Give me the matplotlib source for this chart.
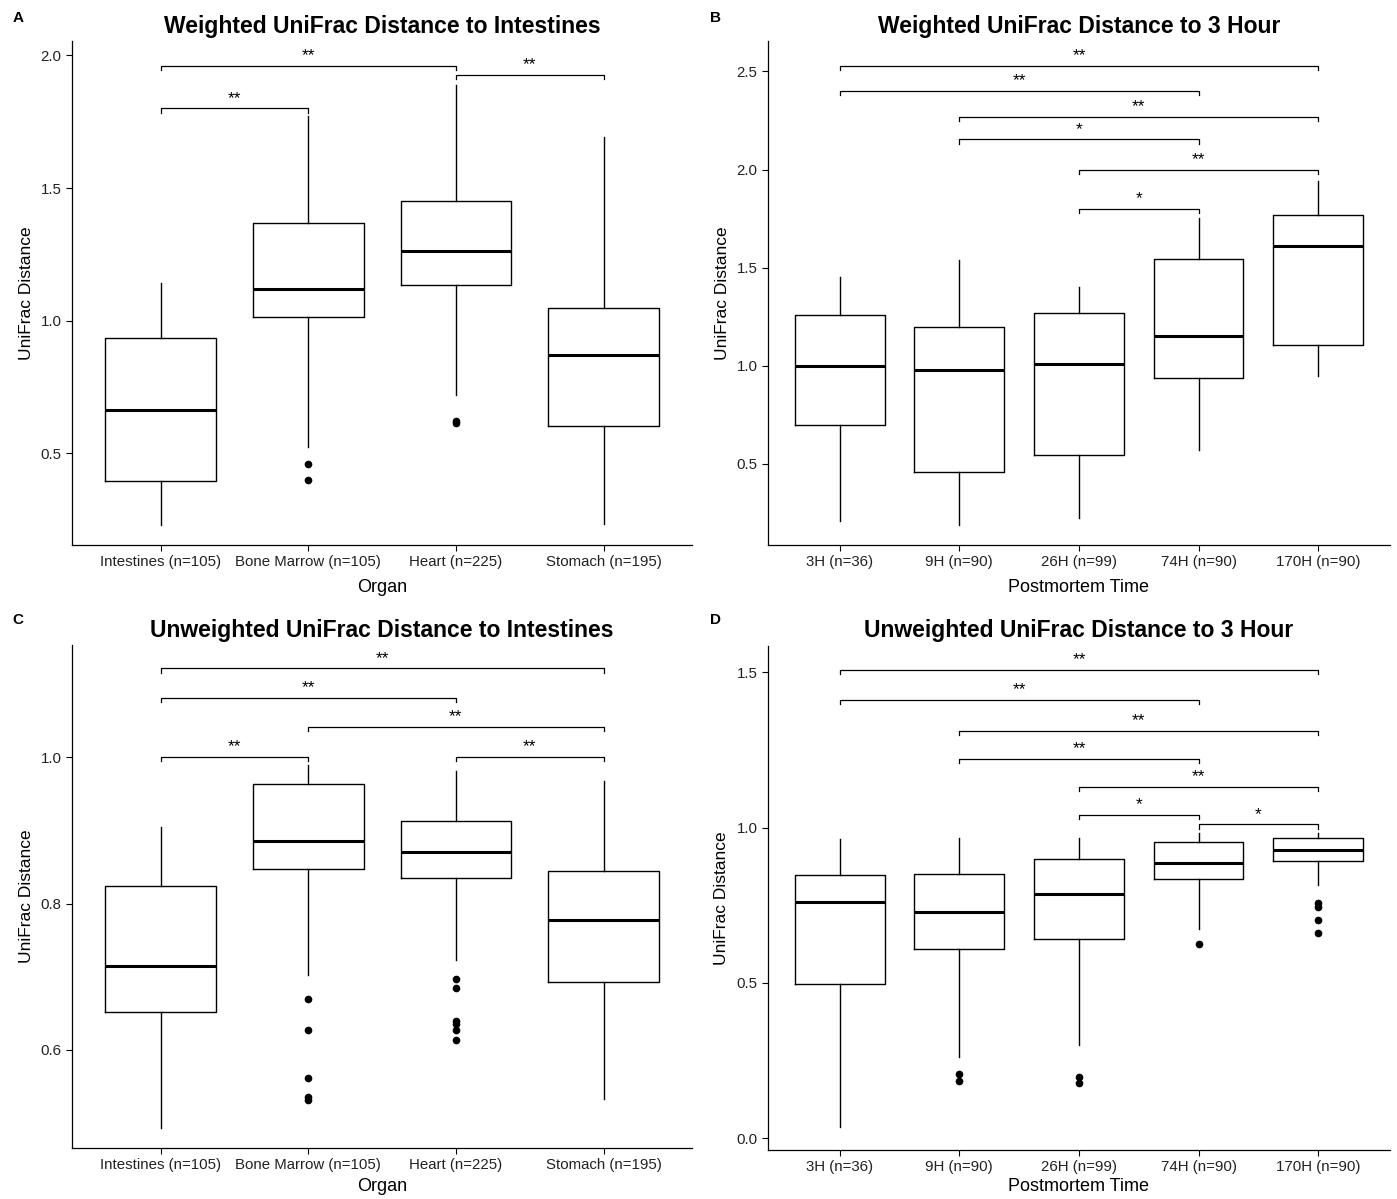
import matplotlib
matplotlib.use("Agg")
import matplotlib.pyplot as plt

plt.rcParams['font.family'] = ['Liberation Sans', 'DejaVu Sans']

organs = ["Intestines (n=105)", "Bone Marrow (n=105)", "Heart (n=225)", "Stomach (n=195)"]
times = ["3H (n=36)", "9H (n=90)", "26H (n=99)", "74H (n=90)", "170H (n=90)"]

# A: weighted UniFrac to intestines
wo_lo = [0.23, 0.525, 0.72, 0.234]
wo_q1 = [0.396, 1.015, 1.136, 0.604]
wo_med = [0.664, 1.12, 1.264, 0.872]
wo_q3 = [0.936, 1.37, 1.453, 1.049]
wo_hi = [1.143, 1.77, 1.89, 1.694]
wo_fliers = [[], [0.46, 0.40], [0.623, 0.615], []]
wo_sig = [(1, 3, 1.962, "**"), (3, 4, 1.925, "**"), (1, 2, 1.80, "**")]

# B: weighted UniFrac to 3 hour
wt_lo = [0.21, 0.19, 0.225, 0.571, 0.949]
wt_q1 = [0.70, 0.46, 0.546, 0.939, 1.107]
wt_med = [1.0, 0.98, 1.01, 1.153, 1.612]
wt_q3 = [1.26, 1.20, 1.27, 1.546, 1.77]
wt_hi = [1.45, 1.54, 1.40, 1.755, 1.944]
wt_fliers = [[], [], [], [], []]
wt_sig = [(1, 5, 2.53, "**"), (1, 4, 2.40, "**"), (2, 5, 2.27, "**"),
          (2, 4, 2.153, "*"), (3, 5, 2.0, "**"), (3, 4, 1.80, "*")]

# C: unweighted UniFrac to intestines
uo_lo = [0.494, 0.702, 0.723, 0.533]
uo_q1 = [0.652, 0.847, 0.835, 0.693]
uo_med = [0.715, 0.885, 0.870, 0.777]
uo_q3 = [0.824, 0.963, 0.913, 0.844]
uo_hi = [0.904, 0.989, 0.981, 0.967]
uo_fliers = [[], [0.670, 0.627, 0.561, 0.536, 0.532],
             [0.697, 0.684, 0.640, 0.635, 0.627, 0.614], []]
uo_sig = [(1, 4, 1.121, "**"), (1, 3, 1.081, "**"), (2, 4, 1.041, "**"),
          (1, 2, 1.0, "**"), (3, 4, 1.0, "**")]

# D: unweighted UniFrac to 3 hour
ut_lo = [0.034, 0.261, 0.300, 0.673, 0.815]
ut_q1 = [0.495, 0.609, 0.641, 0.835, 0.893]
ut_med = [0.760, 0.729, 0.787, 0.887, 0.928]
ut_q3 = [0.847, 0.850, 0.898, 0.955, 0.965]
ut_hi = [0.962, 0.968, 0.968, 0.981, 0.981]
ut_fliers = [[], [0.206, 0.183], [0.198, 0.176], [0.624], [0.756, 0.744, 0.701, 0.661]]
ut_sig = [(1, 5, 1.509, "**"), (1, 4, 1.411, "**"), (2, 5, 1.310, "**"),
          (2, 4, 1.221, "**"), (3, 5, 1.131, "**"), (3, 4, 1.041, "*"), (4, 5, 1.010, "*")]


def panel(ax, labels, lo, q1, med, q3, hi, fliers, sig, ylim, yticks, xlabel, title, xpad=7):
    stats = []
    for i in range(len(labels)):
        stats.append(dict(label=labels[i], whislo=lo[i], q1=q1[i], med=med[i],
                          q3=q3[i], whishi=hi[i], fliers=fliers[i]))
    pos = list(range(1, len(labels) + 1))
    ax.bxp(stats, positions=pos, widths=0.75, showcaps=False,
           boxprops=dict(color="black", linewidth=1.0),
           whiskerprops=dict(color="black", linewidth=1.0),
           medianprops=dict(color="black", linewidth=2.2),
           flierprops=dict(marker="o", markerfacecolor="black",
                           markeredgecolor="black", markersize=4.5))
    ax.set_xlim(0.4, len(labels) + 0.6)
    ax.set_ylim(*ylim)
    ax.set_xticks(pos)
    ax.set_xticklabels(labels, fontsize=10.8)
    ax.set_yticks(yticks)
    ax.set_yticklabels(["%.1f" % v for v in yticks], fontsize=10.8)
    ax.tick_params(length=4, width=0.8, color="black", labelcolor="#222222")
    for s in ["top", "right"]:
        ax.spines[s].set_visible(False)
    for s in ["left", "bottom"]:
        ax.spines[s].set_linewidth(0.9)
    ax.set_xlabel(xlabel, fontsize=13, labelpad=xpad)
    ax.set_ylabel("UniFrac Distance", fontsize=12.5, labelpad=5)
    ax.set_title(title, fontsize=16.5, fontweight="bold", pad=6)
    tip = (ylim[1] - ylim[0]) * 0.008
    for i, j, y, lab in sig:
        ax.plot([i, i, j, j], [y - tip, y, y, y - tip], color="black", lw=0.9)
        ax.annotate(lab, xy=((i + j) / 2, y), xytext=(0, 2), textcoords="offset points",
                    ha="center", va="bottom", fontsize=12.5)


fig = plt.figure(figsize=(13.97, 11.99), dpi=100)
axA = fig.add_axes([0.0515, 0.5455, 0.444, 0.42])
axB = fig.add_axes([0.5497, 0.5455, 0.4453, 0.42])
axC = fig.add_axes([0.0515, 0.0425, 0.444, 0.4195])
axD = fig.add_axes([0.5497, 0.041, 0.4453, 0.4205])

panel(axA, organs, wo_lo, wo_q1, wo_med, wo_q3, wo_hi, wo_fliers, wo_sig,
      (0.155, 2.053), [0.5, 1.0, 1.5, 2.0], "Organ", "Weighted UniFrac Distance to Intestines")
panel(axB, times, wt_lo, wt_q1, wt_med, wt_q3, wt_hi, wt_fliers, wt_sig,
      (0.087, 2.653), [0.5, 1.0, 1.5, 2.0, 2.5], "Postmortem Time", "Weighted UniFrac Distance to 3 Hour")
panel(axC, organs, uo_lo, uo_q1, uo_med, uo_q3, uo_hi, uo_fliers, uo_sig,
      (0.466, 1.153), [0.6, 0.8, 1.0], "Organ", "Unweighted UniFrac Distance to Intestines", xpad=4)
panel(axD, times, ut_lo, ut_q1, ut_med, ut_q3, ut_hi, ut_fliers, ut_sig,
      (-0.038, 1.586), [0.0, 0.5, 1.0, 1.5], "Postmortem Time", "Unweighted UniFrac Distance to 3 Hour", xpad=3)

for lab, x, y in [("A", 0.013, 0.985), ("B", 0.512, 0.985), ("C", 0.013, 0.483), ("D", 0.512, 0.483)]:
    fig.text(x, y, lab, fontsize=11, fontweight="bold", ha="center", va="center")

fig.savefig("out.png", dpi=100)
